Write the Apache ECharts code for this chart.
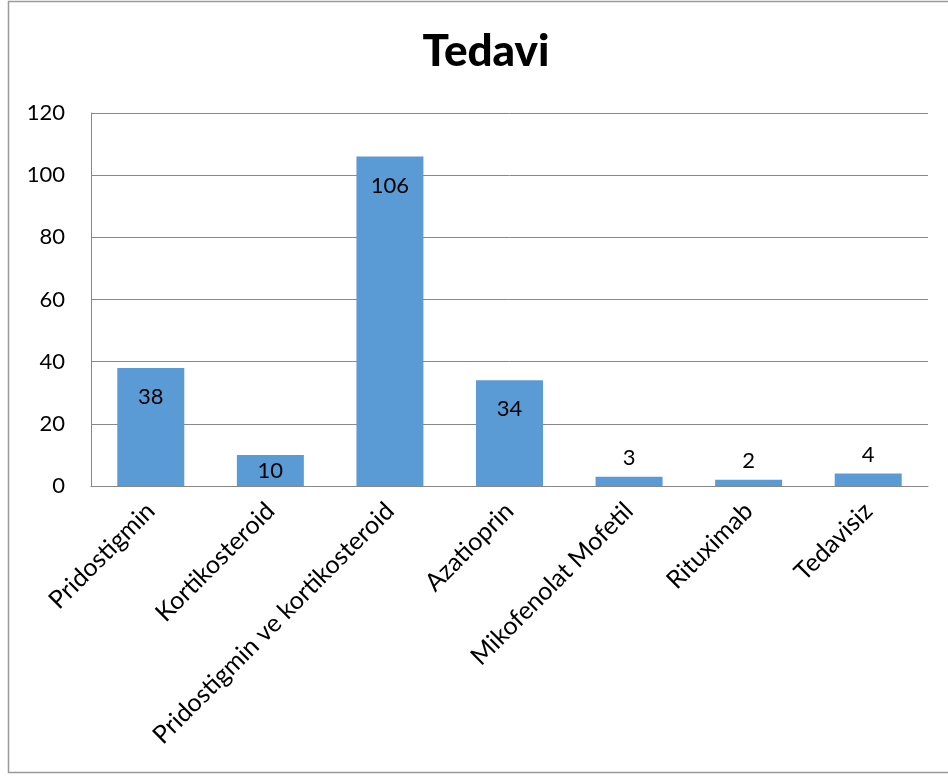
<!DOCTYPE html>
<html>
<head>
<meta charset="utf-8">
<script src="https://cdn.jsdelivr.net/npm/echarts@6/dist/echarts.min.js"></script>
<style>
html,body{margin:0;padding:0;background:#fff;}
#c{width:948px;height:776px;}
</style>
</head>
<body>
<div id="c"></div>
<script>
var categories = ["Pridostigmin", "Kortikosteroid", "Pridostigmin ve kortikosteroid", "Azatioprin", "Mikofenolat Mofetil", "Rituximab", "Tedavisiz"];
var values = [38, 10, 106, 34, 3, 2, 4];
var yTicks = [0, 20, 40, 60, 80, 100, 120];

var FONT = "Lato";
function labelFor(v) {
  if (v >= 20) return { position: 'insideTop', distance: 18 };
  if (v >= 8) return { position: 'inside' };
  return { position: 'top', distance: 8 };
}
var data = values.map(function (v) {
  return { value: v, label: labelFor(v) };
});

var chart = echarts.init(document.getElementById('c'), null, { renderer: 'canvas' });
chart.setOption({
  backgroundColor: '#ffffff',
  animation: false,
  title: {
    text: 'Tedavi',
    left: 481, top: 25, textAlign: 'center',
    textStyle: { fontFamily: FONT, fontWeight: 900, fontSize: 44, color: '#000' }
  },
  graphic: [{
    type: 'rect', silent: true,
    shape: { x: 8.5, y: 1.5, width: 960, height: 771 },
    style: { fill: 'none', stroke: '#9a9a9a', lineWidth: 1.5 }
  }],
  grid: { left: 91, right: 20, top: 113, bottom: 290, containLabel: false },
  xAxis: {
    type: 'category',
    data: categories,
    axisLine: { show: true, lineStyle: { color: '#888', width: 1 } },
    axisTick: { show: false },
    axisLabel: {
      rotate: 45, interval: 0, margin: 21,
      fontFamily: FONT, fontSize: 25, color: '#000'
    }
  },
  yAxis: {
    type: 'value',
    min: yTicks[0], max: yTicks[yTicks.length - 1], interval: 20,
    axisLine: { show: true, lineStyle: { color: '#888', width: 1 } },
    axisTick: { show: false },
    splitLine: { show: true, lineStyle: { color: '#888', width: 1 } },
    axisLabel: { margin: 26, fontFamily: FONT, fontSize: 22, color: '#000' }
  },
  series: [{
    type: 'bar',
    data: data,
    barWidth: 67,
    itemStyle: { color: '#5B9BD5' },
    label: { show: true, fontFamily: FONT, fontSize: 22, color: '#000' }
  }]
});
</script>
</body>
</html>
